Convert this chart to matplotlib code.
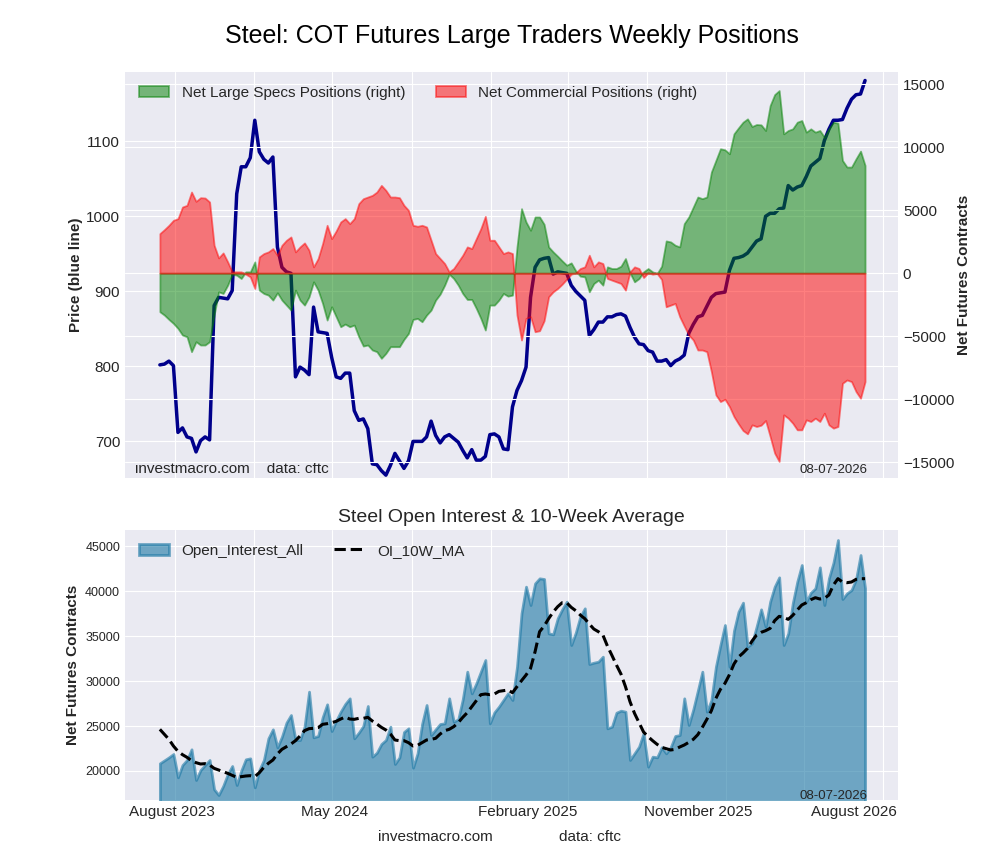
import numpy as np
import pandas as pd
import matplotlib
matplotlib.use('Agg')
import matplotlib.pyplot as plt
import matplotlib.dates as mdates

plt.style.use('seaborn-v0_8-darkgrid')
plt.rcParams['font.family'] = ['Liberation Sans', 'DejaVu Sans']

# weekly report dates (Tuesday), last report released 08-07-2026
dates = pd.date_range('2023-08-08', periods=157, freq='7D')

price = [802, 803, 807, 801, 712, 718, 706, 704, 686, 701, 706, 702, 881, 892, 891, 890,
         901, 1030, 1066, 1066, 1078, 1128, 1086, 1076, 1071, 1079, 959, 932, 926, 924, 786, 799,
         795, 789, 879, 846, 845, 844, 812, 786, 784, 791, 791, 741, 728, 730, 717, 670,
         669, 661, 655, 668, 684, 674, 664, 674, 700, 700, 700, 706, 727, 708, 698, 706,
         709, 704, 699, 688, 678, 689, 675, 675, 680, 709, 710, 706, 690, 689, 746, 768,
         781, 799, 892, 932, 942, 944, 945, 923, 926, 925, 924, 908, 900, 894, 888, 841,
         849, 859, 859, 866, 866, 869, 870, 867, 852, 839, 830, 829, 821, 819, 807, 807,
         809, 801, 807, 810, 815, 844, 856, 866, 868, 880, 892, 897, 898, 899, 928, 944,
         945, 947, 951, 959, 967, 970, 1000, 1004, 1004, 1010, 1011, 1041, 1035, 1039, 1041, 1053,
         1067, 1072, 1077, 1101, 1116, 1128, 1128, 1129, 1144, 1156, 1162, 1163, 1181]

net_specs = [-3062, -3326, -3670, -3986, -4382, -4910, -5042, -6230, -5438, -5702, -5702, -5438,
             -3326, -1478, -1610, -950, -79, -158, -422, 106, 106, 898, -1346, -1610,
             -1742, -2138, -1558, -2138, -2534, -2930, -1346, -2138, -2534, -1874, -686, -1346,
             -2402, -3722, -2666, -3458, -4250, -4039, -4250, -4118, -5042, -5782, -5702, -6098,
             -6230, -6758, -6362, -5834, -5834, -5834, -5254, -4778, -3670, -3590, -3854, -3326,
             -2930, -2138, -1663, -950, -79, -422, -950, -1610, -2086, -2086, -2798, -3590,
             -4514, -2534, -2534, -2138, -1610, -1822, -1742, 2086, 5122, 4066, 3406, 4462,
             4462, 3881, 2086, 1690, 1346, 977, 634, 818, 185, -238, -290, -1478,
             -818, -554, -950, 502, 370, 370, 554, 1162, 26, -686, -422, 106,
             370, 106, -26, 554, 2561, 2482, 2218, 2086, 3934, 4462, 5254, 6046,
             5914, 6046, 8026, 8950, 9874, 9794, 9478, 11062, 11537, 11986, 12250, 11642,
             11801, 11774, 11326, 13306, 14177, 14494, 11062, 11326, 11458, 11986, 12118, 11194,
             11458, 11194, 11326, 10798, 11458, 11986, 11906, 8950, 8422, 8422, 9082, 9689,
             8554]

net_comm = [3142, 3458, 3802, 4198, 4330, 5254, 5386, 6442, 5702, 5993, 5966, 5650,
            2218, 1214, 1610, 898, 106, 106, 106, -79, -290, -1214, 1294, 1558,
            1690, 1954, 1426, 2218, 2614, 2878, 1690, 2086, 2402, 1822, 502, 1162,
            2350, 3802, 2746, 3353, 4066, 4330, 3934, 4330, 5518, 5914, 6046, 6178,
            6442, 6970, 6574, 6046, 6046, 5993, 5386, 4990, 3802, 3722, 3802, 3670,
            2614, 1558, 1162, 766, 106, 370, 898, 1426, 2086, 1954, 2746, 3538,
            4514, 2614, 2614, 2086, 1558, 1690, 1558, -3326, -5306, -3590, -3458, -4646,
            -4567, -3775, -1874, -1478, -1214, -871, -475, -79, 26, 370, 502, 1426,
            502, 898, 766, -422, -554, -686, -818, -1346, 106, 502, 370, -343,
            26, -79, -26, -502, -2666, -2534, -2402, -3458, -4198, -4910, -5306, -6098,
            -6098, -6230, -7814, -9662, -10190, -10006, -10586, -11378, -11959, -12487, -12751, -12038,
            -12170, -12065, -11695, -12962, -14282, -14942, -11246, -11510, -11906, -12434, -12434, -11642,
            -11774, -11510, -11774, -11114, -12038, -12302, -12170, -8738, -8474, -8606, -9398, -9926,
            -8606]

open_interest = [20852, 21185, 21519, 21889, 19296, 20667, 21222, 22408, 19000, 20111, 20667, 21222,
                 17963, 17333, 18333, 19630, 20556, 18444, 20037, 21296, 21407, 18185, 20111, 21222,
                 23630, 24630, 22630, 23815, 25371, 26222, 23444, 23444, 24926, 28815, 23741, 23889,
                 25963, 27408, 24445, 25593, 26593, 27445, 28074, 23630, 24260, 25000, 27223, 21593,
                 22037, 23000, 23445, 24926, 20778, 21519, 24334, 24741, 20370, 21963, 25223, 27334,
                 24000, 24630, 25223, 25297, 28075, 25482, 25741, 27964, 31038, 28630, 29741, 31038,
                 32334, 25297, 26519, 27149, 27889, 28630, 27889, 31594, 37520, 40483, 38446, 40853,
                 41409, 41335, 35298, 35186, 36964, 37964, 38816, 34001, 35372, 37150, 38076, 31890,
                 32038, 32149, 32705, 24741, 24926, 26482, 26704, 26593, 21222, 21963, 22704, 24186,
                 20482, 21593, 21519, 22630, 21963, 22630, 23889, 24000, 28075, 25112, 26852, 28927,
                 31038, 26593, 27890, 31594, 34001, 36224, 31594, 35594, 37705, 38705, 33816, 34186,
                 36038, 37964, 36038, 38816, 40483, 41520, 34001, 35298, 38631, 41039, 42891, 38816,
                 39816, 40298, 42631, 38446, 41409, 43150, 45669, 39113, 39742, 40113, 41298, 44002,
                 40298]

oi_ma = [24630, 24074, 23519, 22778, 22185, 21815, 21519, 21148, 20926, 20778, 20815, 20667,
         20296, 20111, 19926, 19741, 19519, 19296, 19370, 19444, 19481, 19370, 19815, 20407,
         20852, 21222, 21889, 22408, 22704, 23000, 23371, 23889, 24482, 24704, 24741, 24815,
         25186, 25260, 25371, 25519, 25778, 26000, 25778, 25741, 25852, 25852, 25963, 25556,
         25223, 24852, 24556, 24111, 23445, 23371, 23371, 23149, 22778, 22852, 23149, 23445,
         23519, 23630, 24111, 24482, 24630, 24926, 25371, 25963, 26482, 27149, 27815, 28482,
         28556, 28482, 28556, 28852, 28927, 29000, 28704, 29371, 30038, 30667, 31408, 33260,
         35483, 36112, 36927, 37668, 38260, 38705, 38705, 38187, 37816, 37335, 36927, 36335,
         35779, 35483, 35112, 33890, 32853, 31779, 30779, 29371, 27704, 26408, 25371, 24334,
         23815, 23371, 22963, 22630, 22482, 22334, 22408, 22667, 22889, 23186, 23519, 24037,
         24852, 25741, 26704, 28075, 29075, 29741, 30705, 31890, 32668, 33112, 33631, 34446,
         35112, 35409, 35594, 35853, 36705, 37186, 37075, 36853, 37297, 37890, 38446, 38705,
         39038, 39260, 39112, 39186, 39557, 40668, 41372, 41002, 40927, 41002, 41298, 41372,
         41372]

label_dates = pd.to_datetime(['2023-08-27', '2024-05-04', '2025-02-27', '2025-11-18', '2026-07-18'])
label_text = ['August 2023', 'May 2024', 'February 2025', 'November 2025', 'August 2026']

fig = plt.figure(figsize=(10, 8.6), dpi=100)
fig.suptitle('Steel: COT Futures Large Traders Weekly Positions', fontsize=18, y=0.972,
             x=0.512, color='black')

x0, x1 = pd.Timestamp('2023-06-15'), pd.Timestamp('2026-09-24')

# --- top panel: price + net positions ---
ax = fig.add_axes([0.125, 0.444, 0.773, 0.472])
ax.plot(dates, price, color='darkblue', lw=2.5)
ax.set_ylim(651, 1192)
ax.set_ylabel('Price (blue line)', fontsize=11, fontweight='bold', labelpad=2)
ax.tick_params(axis='y', labelsize=11)

ax2 = ax.twinx()
ax2.fill_between(dates, 0, net_specs, color='green', alpha=0.5, lw=1.3,
                 label='Net Large Specs Positions (right)')
ax2.fill_between(dates, 0, net_comm, color='red', alpha=0.5, lw=1.3,
                 label='Net Commercial Positions (right)')
ax2.set_ylim(-16270, 15950)
ax2.set_ylabel('Net Futures Contracts', fontsize=11, fontweight='bold', labelpad=2)
ax2.tick_params(axis='y', labelsize=11)
ax2.legend(loc='upper left', ncol=2, fontsize=11, frameon=False, columnspacing=2.0)

for a in (ax, ax2):
    a.set_xlim(x0, x1)
    a.xaxis.set_major_locator(mdates.MonthLocator(bymonth=[1, 5, 9]))
    a.xaxis.set_major_formatter(plt.NullFormatter())
    a.tick_params(axis='x', length=0)

ax.text(0.013, 0.012, 'investmacro.com    data: cftc', transform=ax.transAxes, fontsize=11)
ax.text(0.96, 0.012, '08-07-2026', transform=ax.transAxes, fontsize=9.5, ha='right')

# --- bottom panel: open interest ---
bx = fig.add_axes([0.125, 0.0698, 0.773, 0.3139])
bx.fill_between(dates, 0, open_interest, color='#1b77a4', alpha=0.6, lw=2,
                label='Open_Interest_All')
bx.plot(dates, oi_ma, color='black', ls='--', lw=2.2, label='OI_10W_MA')
bx.set_ylim(16780, 46780)
bx.set_xlim(x0, x1)
bx.set_title('Steel Open Interest & 10-Week Average', fontsize=14, pad=6)
bx.set_ylabel('Net Futures Contracts', fontsize=11, fontweight='bold')
bx.tick_params(axis='y', labelsize=9)
bx.xaxis.set_major_locator(mdates.MonthLocator(bymonth=[1, 5, 9]))
bx.xaxis.set_major_formatter(plt.NullFormatter())
bx.set_xticks(label_dates, minor=True)
bx.set_xticklabels(label_text, minor=True, fontsize=11)
bx.tick_params(axis='x', which='both', length=0)
bx.grid(False, which='minor')
bx.legend(loc='upper left', ncol=2, fontsize=11, frameon=False, columnspacing=2.0)
bx.text(0.96, 0.005, '08-07-2026', transform=bx.transAxes, fontsize=9.5, ha='right')

fig.text(0.435, 0.022, 'investmacro.com', fontsize=11, ha='center')
fig.text(0.59, 0.022, 'data: cftc', fontsize=11, ha='center')

fig.savefig('out.png', dpi=100)
